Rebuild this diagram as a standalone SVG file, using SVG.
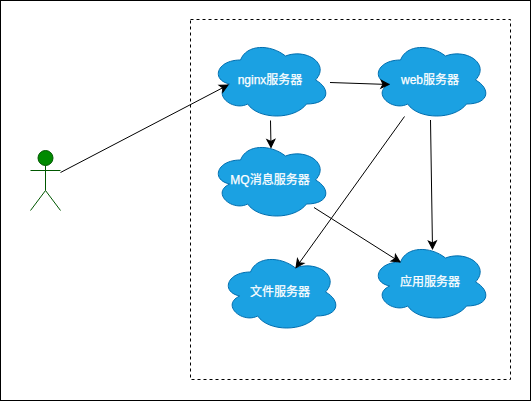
<svg xmlns="http://www.w3.org/2000/svg" width="531" height="401" viewBox="0 0 531 401">
<style>
.cloud{fill:#1ba1e2;stroke:#006eaf;stroke-width:1}
.lbl{font-family:"Liberation Sans","Noto Sans CJK SC",sans-serif;font-size:12px;fill:#fff;stroke:#fff;stroke-width:.25px;text-anchor:middle}
.con{fill:none;stroke:#000;stroke-width:1}
.actor{fill:none;stroke:#005700;stroke-width:1}
</style>
<defs>
<path id="c" d="M30 20C6 20 0 40 19.200 44C0 52.800 21.600 72 37.200 64C48 80 84 80 96 64C120 64 120 48 105 40C120 24 96 8 75 16C60 4 36 4 30 20Z"/>
<marker id="a" markerUnits="userSpaceOnUse" markerWidth="10" markerHeight="10" refX="8" refY="4" orient="auto" overflow="visible"><path d="M0 0L8 4L0 8L2 4Z" fill="#000" stroke="#000" stroke-width="1"/></marker>
</defs>
<rect x="0.500" y="0.500" width="530" height="400" fill="#fff" stroke="#000"/>
<rect id="boundary" x="190.500" y="19.500" width="320" height="360" fill="none" stroke="#000" stroke-dasharray="3 3"/>
<g id="actor">
<ellipse cx="45.500" cy="158" rx="7.500" ry="7.500" fill="#008a00" stroke="#005700"/>
<path class="actor" d="M45.500 165.500V190.500M30.500 170.500H60.500M45.500 190.500L30.500 210.500M45.500 190.500L60.500 210.500"/>
</g>
<g id="nginx"><use href="#c" x="210.500" y="40" class="cloud"/><text class="lbl" x="270" y="84">nginx服务器</text></g>
<g id="web"><use href="#c" x="370.500" y="40" class="cloud"/><text class="lbl" x="430" y="84">web服务器</text></g>
<g id="mq"><use href="#c" x="210.500" y="140" class="cloud"/><text class="lbl" x="270" y="184">MQ消息服务器</text></g>
<g id="file"><use href="#c" x="220.500" y="252" class="cloud"/><text class="lbl" x="280" y="296">文件服务器</text></g>
<g id="app"><use href="#c" x="370.500" y="242" class="cloud"/><text class="lbl" x="430" y="286">应用服务器</text></g>
<g id="connectors">
<path class="con" marker-end="url(#a)" d="M60.500 172.500L228 85"/>
<path class="con" marker-end="url(#a)" d="M330 82.500L389 84.500"/>
<path class="con" marker-end="url(#a)" d="M270.500 120.500L271 147.500"/>
<path class="con" marker-end="url(#a)" d="M404.500 116.500L296 267.500"/>
<path class="con" marker-end="url(#a)" d="M430.500 120L432.500 249"/>
<path class="con" marker-end="url(#a)" d="M314 207.500L400 262"/>
</g>
</svg>
